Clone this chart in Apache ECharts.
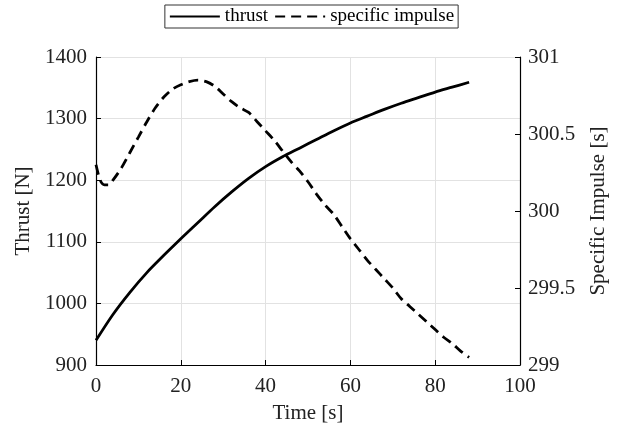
<!DOCTYPE html>
<html><head><meta charset="utf-8">
<script src="https://cdn.jsdelivr.net/npm/echarts@6/dist/echarts.min.js"></script>
<style>html,body{margin:0;padding:0;background:#fff}#c{width:623px;height:433px}</style>
</head><body><div id="c"></div>
<script>
const thrustTime = [0,4,8,12,16,20,24,28,32,36,40,44,48,52,56,60,64,68,72,76,80,84,88];
const thrustValues = [940,982,1018,1050,1078,1105,1131,1157,1181,1203,1222,1238,1252,1266,1280,1293,1304,1315,1325,1334,1343,1351,1359];
const ispTime = [0,1,2,3,4,6,8,10,12,14,16,18,20,22,24,26,28,30,32,34,36,38,40,42,44,46,48,50,52,54,56,58,60,62,64,66,68,70,72,74,76,78,80,82,84,86,88];
const ispValues = [300.30,300.20,300.17,300.17,300.20,300.28,300.38,300.48,300.58,300.67,300.74,300.79,300.82,300.84,300.85,300.84,300.81,300.76,300.71,300.67,300.64,300.58,300.52,300.46,300.39,300.32,300.26,300.19,300.11,300.04,299.98,299.90,299.82,299.75,299.68,299.62,299.56,299.50,299.43,299.38,299.33,299.28,299.23,299.18,299.14,299.09,299.05];
const seriesNames = ['thrust','specific impulse'];
const xName = 'Time [s]', yLeftName = 'Thrust [N]', yRightName = 'Specific Impulse [s]';

const font = 'Liberation Serif';
const plain = v => String(v);
const chart = echarts.init(document.getElementById('c'));
chart.setOption({
  animation:false,
  textStyle:{fontFamily:font},
  legend:{
    top:5, left:'center', itemGap:6, itemWidth:50, itemHeight:14,
    borderColor:'#333', borderWidth:1, padding:[2,4,2,4], backgroundColor:'#fff',
    itemStyle:{opacity:0},
    textStyle:{fontFamily:font,fontSize:19,color:'#000'},
    data:seriesNames
  },
  grid:{left:96,right:103,top:57,bottom:68},
  xAxis:{
    type:'value', min:0, max:100, interval:20,
    name:xName, nameLocation:'middle', nameGap:38,
    nameTextStyle:{fontFamily:font,fontSize:21,color:'#222'},
    axisLine:{show:true,onZero:false,lineStyle:{color:'#000',width:1.2}},
    axisTick:{show:true,inside:true,length:5,lineStyle:{color:'#000'}},
    axisLabel:{fontFamily:font,fontSize:21,color:'#222',margin:11,formatter:plain},
    splitLine:{show:true,lineStyle:{color:'#e2e2e2',width:1}}
  },
  yAxis:[{
    type:'value', min:900, max:1400, interval:100,
    name:yLeftName, nameLocation:'middle', nameGap:62,
    nameTextStyle:{fontFamily:font,fontSize:21,color:'#222'},
    axisLine:{show:true,lineStyle:{color:'#000',width:1.2}},
    axisTick:{show:true,inside:true,length:5,lineStyle:{color:'#000'}},
    axisLabel:{fontFamily:font,fontSize:21,color:'#222',margin:9,formatter:plain},
    splitLine:{show:true,lineStyle:{color:'#e2e2e2',width:1}}
  },{
    type:'value', min:299, max:301, interval:0.5, position:'right',
    name:yRightName, nameLocation:'middle', nameGap:68,
    nameTextStyle:{fontFamily:font,fontSize:21,color:'#222'},
    axisLine:{show:true,lineStyle:{color:'#000',width:1.2}},
    axisTick:{show:true,inside:true,length:5,lineStyle:{color:'#000'}},
    axisLabel:{fontFamily:font,fontSize:21,color:'#222',margin:8,formatter:plain},
    splitLine:{show:false}
  }],
  series:[{
    name:seriesNames[0], type:'line', yAxisIndex:0, showSymbol:false, symbol:'none', smooth:0.3,
    data:thrustTime.map((t,i)=>[t,thrustValues[i]]),
    lineStyle:{color:'#000',width:2.8}, itemStyle:{color:'#000'}
  },{
    name:seriesNames[1], type:'line', yAxisIndex:1, showSymbol:false, symbol:'none', smooth:0.3,
    data:ispTime.map((t,i)=>[t,ispValues[i]]),
    lineStyle:{color:'#000',width:2.8,type:[10,6]}, itemStyle:{color:'#000'}
  }]
});
</script></body></html>
